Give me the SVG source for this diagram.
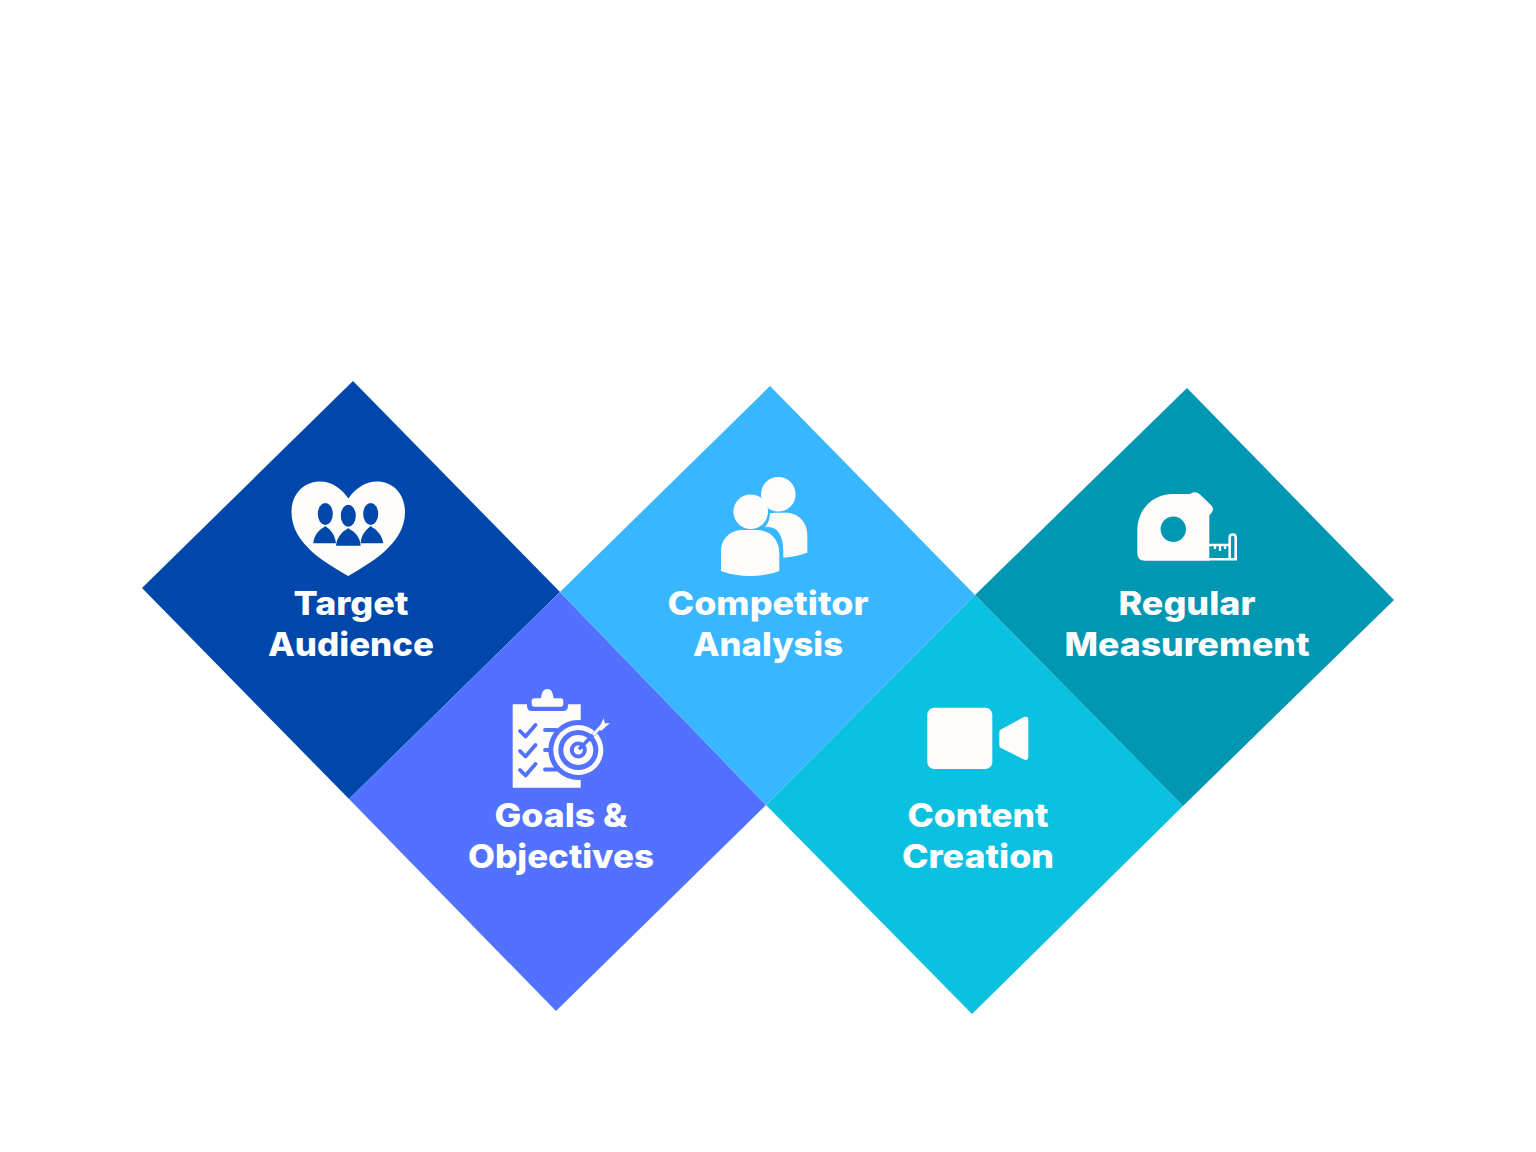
<svg xmlns="http://www.w3.org/2000/svg" width="1536" height="1152" viewBox="0 0 1536 1152">
<style>
.lb{font-family:"Inter","Liberation Sans",sans-serif;font-weight:800;font-size:33px;fill:#fff;text-anchor:middle}
.ic{fill:#fffdfb}
.nb{fill:#0047ab}.ng{fill:#5271ff}.nc{fill:#38b6ff}.nt{fill:#0cc0df}.nr{fill:#0097b2}
.sg{fill:none;stroke:#5271ff;stroke-linecap:round;stroke-linejoin:round}
</style>
<rect width="1536" height="1152" fill="#fff"/>
<g id="connectors"></g>
<g id="target-audience">
<polygon class="nb" points="353,381 560,592 349,799 142,588"/>
<path class="ic" d="M348.300 576C328 564 291.500 545 291.500 512C291.500 493 305 481.500 320 481.500C332 481.500 342 489 348.300 498.500C355 489 365 481.500 377 481.500C392 481.500 405 493 405 512C405 545 368 564 348.300 576Z"/>
<g class="nb">
<ellipse cx="325.300" cy="514" rx="7.500" ry="11"/><ellipse cx="348.300" cy="515.700" rx="7.500" ry="11"/><ellipse cx="370.700" cy="514" rx="7.500" ry="11"/>
<path d="M313.300 543.300C314 535 319 530 323.500 527.500L325.300 526L327 527.500C331 530 335 535 336 543.300Z"/>
<path d="M336 545.700C337 537 342 532 346.500 529.500L348.300 528L350 529.500C355 532 360 537 360.700 545.700Z"/>
<path d="M360.700 543.300C361 535 366 530 369 527.500L370.700 526L372.500 527.500C377 530 382 535 383.300 543.300Z"/>
</g>
<text class="lb" x="351" y="615" textLength="115" lengthAdjust="spacingAndGlyphs">Target</text>
<text class="lb" x="351" y="656" textLength="166" lengthAdjust="spacingAndGlyphs">Audience</text>
</g>
<g id="goals-objectives">
<polygon class="ng" points="560,592 766,805 556,1011 349,799"/>
<path class="ic" d="M512.700 704.300H527V706Q527 711 532 711H563Q568 711 568 706V704.300H580.700V787.700H512.700Z"/>
<path class="ic" d="M531.700 704V701Q531.700 698.300 534.500 698.300H541C541.500 694 542.500 689 547.300 689C552 689 553 694 553.500 698.300H560.500Q563.300 698.300 563.300 701V704Q563.300 706.700 560.500 706.700H534.500Q531.700 706.700 531.700 704Z"/>
<g class="sg" stroke-width="3.800">
<path d="M520 731L525.500 736.500L535.500 725"/><path d="M520 751L525.500 756.500L535.500 745"/><path d="M520 770L525.500 775.500L535.500 764"/>
<path d="M545 730H556M545 750H549M545 769.500H556"/>
</g>
<circle cx="578.300" cy="750" r="30" fill="#5271ff"/>
<circle cx="578.300" cy="750" r="25" class="ic"/>
<circle cx="578.300" cy="750" r="20" fill="#5271ff"/>
<circle cx="578.300" cy="750" r="15" class="ic"/>
<circle cx="578.300" cy="750" r="8.500" fill="#5271ff"/>
<circle cx="578.300" cy="750" r="4.500" class="ic"/>
<path d="M579 749.300L596 732" stroke="#5271ff" stroke-width="3.500" fill="none"/>
<path d="M593 735L602 725.500" stroke="#fffdfb" stroke-width="3" fill="none"/>
<path class="ic" d="M599 728L603.500 718.500L605 723.500L610 723L601 731Z"/>
<text class="lb" x="561" y="827" textLength="133" lengthAdjust="spacingAndGlyphs">Goals &amp;</text>
<text class="lb" x="561" y="868" textLength="186" lengthAdjust="spacingAndGlyphs">Objectives</text>
</g>
<g id="competitor-analysis">
<polygon class="nc" points="770,386 975,595 766,805 560,592"/>
<circle class="ic" cx="778.300" cy="494.300" r="17.300"/>
<path class="ic" d="M770 513.300C775 512.500 781 512.700 786 512.700C798 512.700 807.300 522 807.300 535V552.700C800 555.500 792 557 783.300 557.700V551C783.300 535 777 525 765 527.300C768.500 523 770 518 770 513.300Z"/>
<circle class="ic" cx="750.700" cy="511.700" r="17.300"/>
<path class="ic" d="M721 571V551C721 538 731 530 743 530H757C770 530 779.300 540 779.300 553V571C770 574.500 760 576 750 576C740 576 730 574.500 721 571Z"/>
<text class="lb" x="768" y="615" textLength="201" lengthAdjust="spacingAndGlyphs">Competitor</text>
<text class="lb" x="768" y="656" textLength="150" lengthAdjust="spacingAndGlyphs">Analysis</text>
</g>
<g id="content-creation">
<polygon class="nt" points="975,595 1183,806 972,1014 766,805"/>
<rect class="ic" x="927.300" y="707.700" width="65" height="61.300" rx="7"/>
<path class="ic" d="M1001 729.500L1024 717Q1028.300 715.500 1028.300 720V756.500Q1028.300 761 1024 759.500L1001 748Q999.300 747 999.300 745V732Q999.300 730.500 1001 729.500Z"/>
<text class="lb" x="978" y="827" textLength="141" lengthAdjust="spacingAndGlyphs">Content</text>
<text class="lb" x="978" y="868" textLength="152" lengthAdjust="spacingAndGlyphs">Creation</text>
</g>
<g id="regular-measurement">
<polygon class="nr" points="1187,388 1394,600 1183,806 975,595"/>
<path class="ic" fill-rule="evenodd" d="M1137.300 553V531C1137.300 509 1153 494 1173 494H1186C1189 494 1190 494 1191 493.500C1194 491.500 1197 492 1200 494.500L1211.500 505.500C1213.500 508 1213.500 511 1211 513.500L1209.300 515.500V560.700H1145Q1137.300 560.700 1137.300 553ZM1173.300 516.600A12.700 12.700 0 1 0 1173.300 542A12.700 12.700 0 1 0 1173.300 516.600Z"/>
<path d="M1209 545H1230M1208 559.300H1235.700V537.500Q1235.700 534.500 1232.800 534.500Q1229.700 534.500 1229.700 537.500V558" fill="none" stroke="#fffdfb" stroke-width="2.600"/>
<path d="M1215 545V549M1220 545V551M1225 545V549" stroke="#fffdfb" stroke-width="2.200" fill="none"/>
<text class="lb" x="1187" y="615" textLength="137" lengthAdjust="spacingAndGlyphs">Regular</text>
<text class="lb" x="1187" y="656" textLength="245" lengthAdjust="spacingAndGlyphs">Measurement</text>
</g>
</svg>
